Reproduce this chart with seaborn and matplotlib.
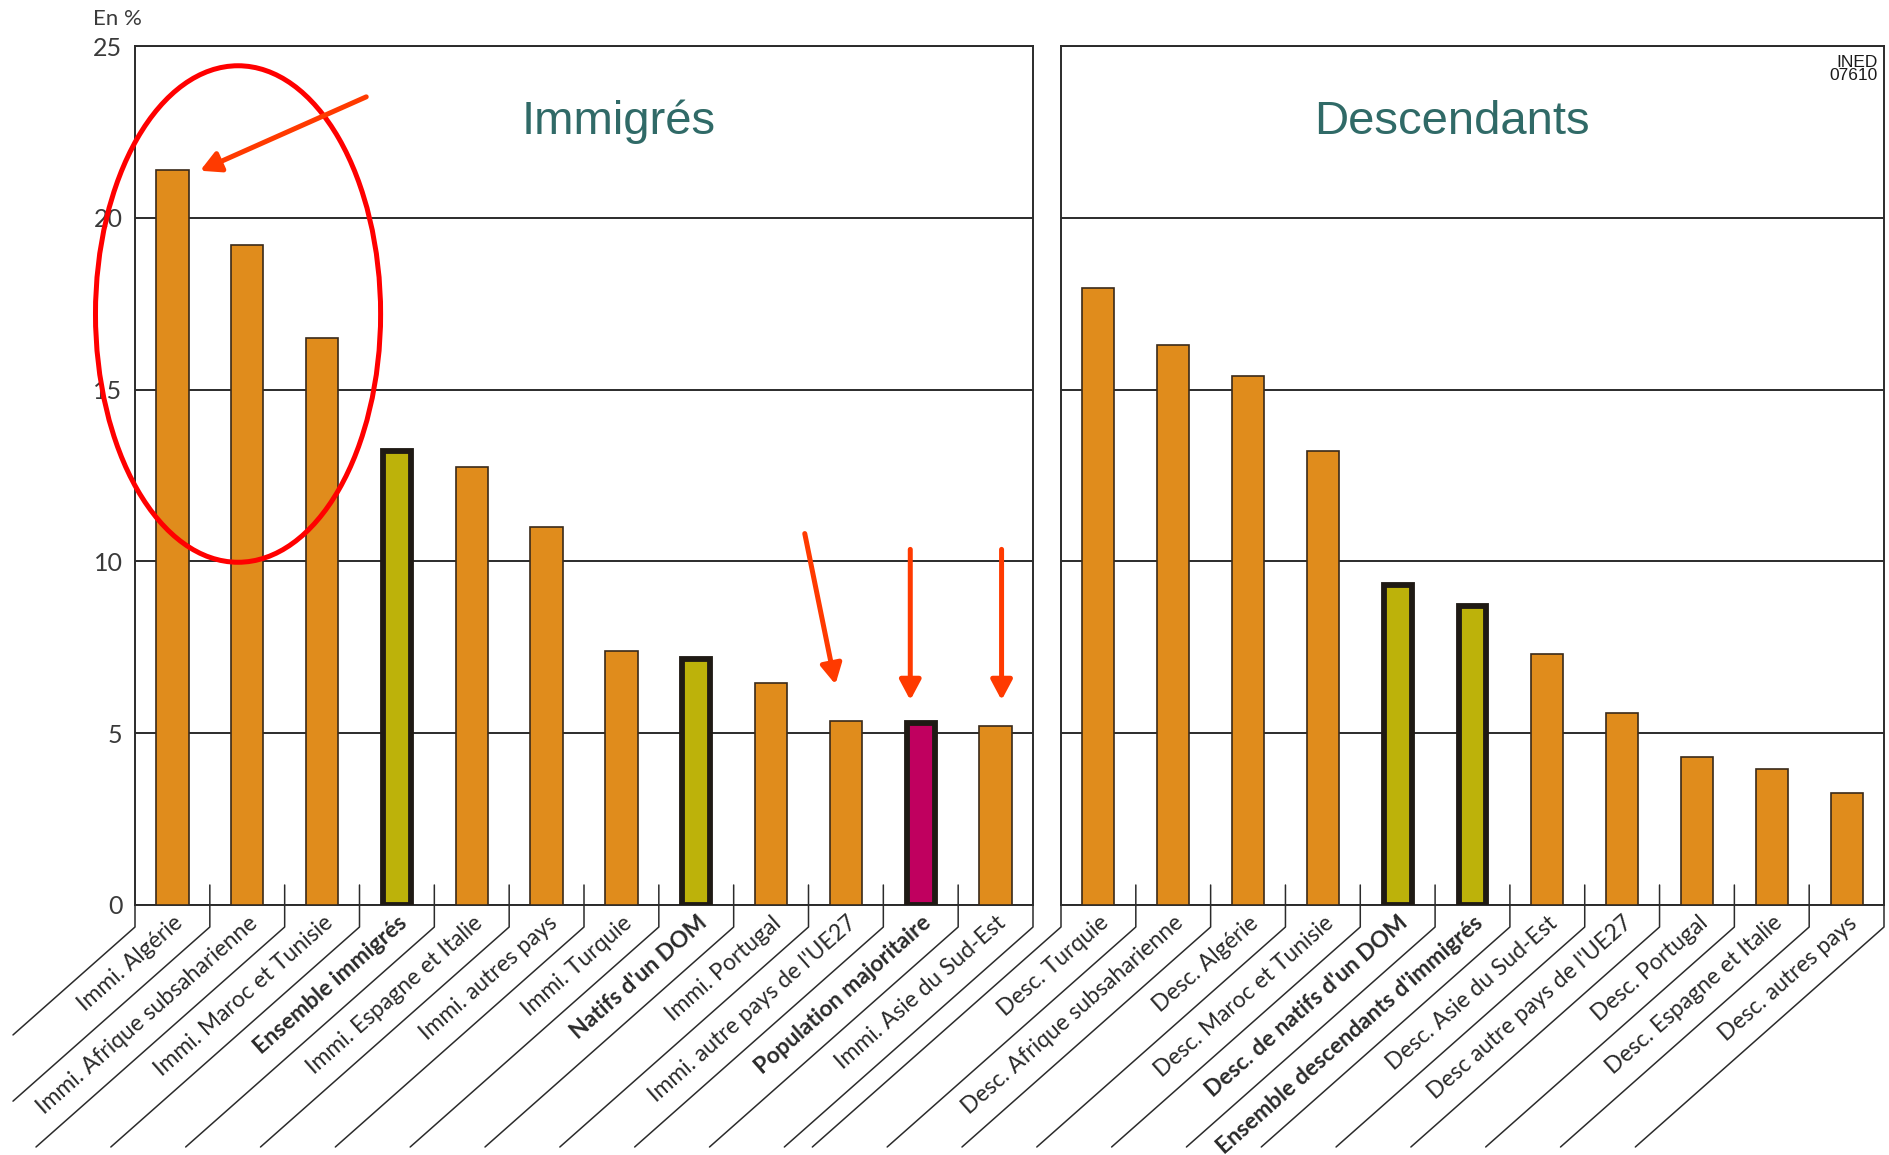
import numpy as np
import pandas as pd
import matplotlib.pyplot as plt
import matplotlib.transforms as mtransforms
from matplotlib.patches import Ellipse, FancyArrowPatch
from matplotlib.lines import Line2D
import seaborn as sns

# ---- values (en %) ----
immi_labels = ["Immi. Algérie", "Immi. Afrique subsaharienne", "Immi. Maroc et Tunisie",
               "Ensemble immigrés", "Immi. Espagne et Italie", "Immi. autres pays",
               "Immi. Turquie", "Natifs d'un DOM", "Immi. Portugal",
               "Immi. autre pays de l'UE27", "Population majoritaire", "Immi. Asie du Sud-Est"]
immi_values = [21.4, 19.2, 16.5, 13.2, 12.75, 11.0, 7.4, 7.15, 6.45, 5.35, 5.3, 5.2]
immi_groups = ["pays", "pays", "pays", "ensemble", "pays", "pays",
               "pays", "ensemble", "pays", "pays", "reference", "pays"]

desc_labels = ["Desc. Turquie", "Desc. Afrique subsaharienne", "Desc. Algérie",
               "Desc. Maroc et Tunisie", "Desc. de natifs d'un DOM",
               "Ensemble descendants d'immigrés", "Desc. Asie du Sud-Est",
               "Desc autre pays de l'UE27", "Desc. Portugal", "Desc. Espagne et Italie",
               "Desc. autres pays"]
desc_values = [17.95, 16.3, 15.4, 13.2, 9.3, 8.7, 7.3, 5.6, 4.3, 3.95, 3.25]
desc_groups = ["pays", "pays", "pays", "pays", "ensemble", "ensemble",
               "pays", "pays", "pays", "pays", "pays"]

y_ticks = [0, 5, 10, 15, 20, 25]

palette = {"pays": "#E08C1C", "ensemble": "#BDB20A", "reference": "#C0005F"}
line_col = "#2b2b2b"
text_col = "#2a2a2a"
title_col = "#306A67"
arrow_col = "#FF3A00"

sns.set_style("white")
plt.rcParams["font.family"] = ["Lato", "DejaVu Sans"]

fig = plt.figure(figsize=(18.9, 11.55), dpi=100)
ax_l = fig.add_axes([135 / 1890, 250 / 1155, 898 / 1890, 859 / 1155])
ax_r = fig.add_axes([1061 / 1890, 250 / 1155, 823 / 1890, 859 / 1155])

to_fig = fig.transFigure.inverted()
slope = np.tan(np.radians(41.5))


def draw_panel(ax, labels, values, groups, show_ticks):
    df = pd.DataFrame({"label": labels, "value": values})
    colors = {lab: palette[g] for lab, g in zip(labels, groups)}
    sns.barplot(data=df, x="label", y="value", hue="label", order=labels,
                hue_order=labels, palette=colors, width=0.43, saturation=1,
                legend=False, edgecolor="#3a2a1a", linewidth=1.2, zorder=3, ax=ax)

    # highlighted bars: thick dark border
    for patch, g in zip(ax.patches, groups):
        if g != "pays":
            w = patch.get_width()
            patch.set_x(patch.get_x() + 0.03)
            patch.set_width(w - 0.06)
            patch.set_linewidth(4.2)
            patch.set_edgecolor("#1f1a14")

    n = len(labels)
    ax.set_xlim(-0.5, n - 0.5)
    ax.set_ylim(0, 25)
    ax.set_yticks(y_ticks)
    ax.yaxis.grid(True, color=line_col, lw=1.4)
    ax.set_axisbelow(True)
    ax.set_xticks([])
    ax.set_xlabel("")
    ax.set_ylabel("")
    ax.tick_params(axis="y", length=0, pad=9, labelsize=18, labelcolor="#3a3a3a")
    if not show_ticks:
        ax.set_yticklabels([])
    for s in ax.spines.values():
        s.set_visible(True)
        s.set_color(line_col)
        s.set_linewidth(1.4)

    # rotated category labels
    offset = mtransforms.ScaledTranslation(0.075, -0.15, fig.dpi_scale_trans)
    for i, (lab, g) in enumerate(zip(labels, groups)):
        ax.text(i, 0, lab, transform=ax.transData + offset, rotation=41.5,
                rotation_mode="anchor", ha="right", va="center", fontsize=16.5,
                fontweight="bold" if g != "pays" else "normal",
                color=text_col, clip_on=False)

    # separators and diagonal leader lines
    for k in range(n + 1):
        sx, sy = ax.transData.transform((k - 0.5, 0))
        top = sy + (20 if 0 < k < n else 0)
        knee = sy - 22
        dx = (knee - 8) / slope
        if sx - dx < 13:
            end = (13, knee - (sx - 13) * slope)
        else:
            end = (sx - dx, 8)
        pts = to_fig.transform([(sx, top), (sx, knee), end])
        fig.add_artist(Line2D(pts[:, 0], pts[:, 1], color=line_col, lw=1.1,
                              transform=fig.transFigure))


draw_panel(ax_l, immi_labels, immi_values, immi_groups, True)
draw_panel(ax_r, desc_labels, desc_values, desc_groups, False)

# panel titles
ax_l.text(0.539, 0.912, "Immigrés", transform=ax_l.transAxes, ha="center", va="center",
          fontsize=34, color=title_col, family=["Liberation Sans", "DejaVu Sans"])
ax_r.text(0.475, 0.912, "Descendants", transform=ax_r.transAxes, ha="center", va="center",
          fontsize=34, color=title_col, family=["Liberation Sans", "DejaVu Sans"])
ax_r.text(0.992, 0.99, "INED\n07610", transform=ax_r.transAxes, ha="right", va="top",
          fontsize=12.5, linespacing=0.9, color="#1a1a1a",
          family=["Liberation Sans Narrow", "Liberation Sans", "DejaVu Sans"])

fig.text(93 / 1890, 1 - 19 / 1155, "En %", ha="left", va="center", fontsize=16,
         color="#3a3a3a")

# red highlight: ellipse around the first three bars
ax_l.add_patch(Ellipse((0.877, 17.2), width=3.81, height=14.45, fill=False,
                       edgecolor="#FF0000", lw=3.6, clip_on=False, zorder=6))

# arrows: (bar index, tip dx, tip dy, tail dx, tail dy)
arrows = [(0, 0.37, -0.03, 2.22, 2.15),
          (9, -0.14, 1.07, -0.41, 4.39),
          (10, -0.14, 0.66, 0.0, 4.39),
          (11, 0.08, 0.76, 0.0, 4.39)]
for i, tdx, tdy, ldx, ldy in arrows:
    tip = (i + tdx, immi_values[i] + tdy)
    tail = (tip[0] + ldx, tip[1] + ldy)
    ax_l.add_patch(FancyArrowPatch(tail, tip, arrowstyle="-|>,head_length=0.6,head_width=0.32",
                                   mutation_scale=20, color=arrow_col, lw=3.6,
                                   shrinkA=0, shrinkB=0, clip_on=False, zorder=6))

fig.savefig("out.png", dpi=100)
